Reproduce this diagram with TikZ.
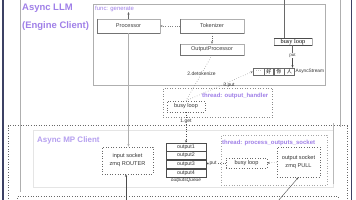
\documentclass[tikz,border=0pt]{standalone}
\usepackage{fontspec}
\setmainfont{Liberation Sans}
\newfontfamily\serifface{Liberation Serif}
\newfontfamily\cjk{Noto Sans CJK SC}
\usetikzlibrary{arrows.meta}
\definecolor{purp}{RGB}{160,128,232}
\definecolor{purpl}{RGB}{182,160,240}
\definecolor{navy}{RGB}{60,65,100}
\definecolor{lgray}{RGB}{175,175,175}
\definecolor{dgray}{RGB}{105,105,105}
\begin{document}
\begin{tikzpicture}[x=1bp,y=-1bp,
  title/.style={text=purp,font=\fontsize{9.5}{10}\selectfont\bfseries,anchor=west,inner sep=0},
  thr/.style={text=purp,font=\fontsize{6}{6}\selectfont\bfseries,anchor=west,inner sep=0},
  comp/.style={draw=lgray, line width=0.5pt, font=\fontsize{5.6}{6}\selectfont, inner sep=0, text=black!75},
  dbox/.style={draw=dgray, dotted, line width=0.6pt, inner sep=0, font=\fontsize{5.6}{6.5}\selectfont, text=black!80, align=center},
  lab/.style={font=\fontsize{5}{5}\selectfont, inner sep=0.5pt, text=black!80},
  cell/.style={draw=dgray, line width=0.5pt, minimum height=7, inner sep=0, font=\cjk\fontsize{5}{5}\selectfont},
  qcell/.style={draw=black!70, line width=0.7pt, minimum width=40, minimum height=8, inner sep=0, font=\fontsize{5.3}{5.3}\selectfont, text=black!80},
  arr/.style={-{Stealth[length=2.5pt,width=2pt]}, line width=0.4pt},
]
\useasboundingbox (0,0) rectangle (356,200);
\fill[white] (0,0) rectangle (356,200);

% outer frame lines
\draw[navy, line width=1.4pt] (3,-1) -- (3,201);
\draw[navy, line width=1.4pt] (351.5,-1) -- (351.5,201);

% Async LLM box edges
\draw[lgray, line width=0.8pt] (20,-1) -- (20,192);
\draw[lgray, line width=0.8pt] (340,-1) -- (340,127);
\node[title] (t1) at (22,8) {Async LLM};
\node[title] (t2) at (22,26) {(Engine Client)};

% func: generate
\node[draw=lgray, line width=0.7pt, minimum width=233, minimum height=81, inner sep=0] (gen) at (209.5,44.5) {};
\node[anchor=north west, text=purp, font=\fontsize{6}{6}\selectfont, inner sep=0] (genl) at (95,5.5) {func: generate};

\node[comp, minimum width=63, minimum height=14] (proc) at (128.5,26) {Processor};
\node[comp, minimum width=64, minimum height=14] (tok) at (212,26) {Tokenizer};
\node[comp, minimum width=64, minimum height=11] (op) at (212,49.5) {OutputProcessor};
\foreach \n in {proc,tok,op}{
  \draw[black!55, line width=0.7pt] (\n.north west) -- (\n.south west) -- (\n.south east);
}
\coordinate (pu) at (128.5,12);
\draw[arr, black!60] (proc.north) -- (pu);
\draw[arr, black!50, dotted] (tok.west) -- (proc.east);
\draw[arr, black!60, dotted] (tok.south) -- (op.north);

% busy loop (top right)
\node[draw=lgray, line width=0.4pt, minimum width=38, minimum height=7, inner sep=0, font=\serifface\fontsize{6.3}{6}\selectfont] (busy1) at (293,41.5) {busy loop};
\draw[black!70, line width=0.5pt] (busy1.north west) -- (busy1.north east);
\draw[black!70, line width=0.5pt] (busy1.south west) -- (busy1.south east);
\coordinate (topin) at (284,-1);
\draw[dgray, line width=0.5pt] (topin) -- (topin |- busy1.north);
\node[lab, font=\serifface\fontsize{5}{5}\selectfont] (put1) at (292.5,55.5) {put};
\draw[black!60, line width=0.4pt] (busy1.south -| put1) -- (put1.north);

% AsyncStream
\node[cell, minimum width=11] (c1) at (258.5,71.5) {…};
\node[cell, minimum width=9, anchor=west] (c2) at (c1.east) {好};
\node[cell, minimum width=10, anchor=west] (c3) at (c2.east) {你};
\node[cell, minimum width=10, anchor=west] (c4) at (c3.east) {人};
\node[lab, anchor=west, font=\fontsize{4.8}{5}\selectfont] (asl) at (295,71.5) {AsyncStream};
\draw[arr, black!70] (put1.south) -- (put1.south |- c4.north);

% output_handler thread
\node[dbox, draw=black!45, minimum width=110, minimum height=29] (oh) at (218,102.5) {};
\node[thr] (ohl) at (202,96) {thread: output\_handler};
\node[dbox, minimum width=38, minimum height=11] (busy2) at (186,106.5) {busy loop};

\draw[black!55, dotted, line width=0.5pt] (op.south) -- node[lab, fill=white, pos=0.4] {2.detokenize} (busy2.north);
\draw[arr, black!55, dotted, line width=0.5pt] (busy2.north) -- (c1.west);
\node[lab] (p3) at (229,85) {3.put};

% Async MP Client
\draw[dgray, dotted, line width=0.6pt] (8,201) -- (8,125.5) -- (347,125.5) -- (347,201);
\draw[gray!20, line width=0.5pt] (33,130) rectangle (333,187);
\draw[gray!55, line width=0.6pt] (333,123) -- (333,184);
\draw[dgray, dotted, line width=0.6pt] (17,201) -- (17,196.5) -- (338,196.5) -- (338,201);
\node[thr, font=\fontsize{8}{8}\selectfont\bfseries, text=purpl] (mpl) at (37,140) {Async MP Client};

\node[dbox, minimum width=51, minimum height=27] (isock) at (127.5,160.5) {input socket\\[1.5pt]zmq ROUTER};
\draw[arr, lgray] (proc.south) -- (proc.south |- isock.north);
\coordinate (ib) at (126,201);
\draw[arr, black!70] (ib) -- (ib |- isock.south);

% outputs queue
\node[qcell] (q1) at (186,147) {output1};
\node[qcell, anchor=north] (q2) at (q1.south) {output2};
\node[qcell, anchor=north] (q3) at (q2.south) {output3};
\node[qcell, anchor=north] (q4) at (q3.south) {output4};
\node[lab, font=\fontsize{4.8}{5}\selectfont\itshape] (ql) at (186,180) {outputsQueue};
\draw[arr, black!70, dotted, line width=0.5pt] (busy2.south) -- node[lab, fill=white, pos=0.3] {1.get} (q1.north);

% process_outputs_socket thread
\node[dbox, draw=black!35, minimum width=106, minimum height=50] (pos) at (274,160) {};
\node[thr] (posl) at (222,142.5) {thread: process\_outputs\_socket};
\node[dbox, minimum width=41, minimum height=10] (busy3) at (246.5,163) {busy loop};
\node[dbox, minimum width=43, minimum height=30] (osock) at (298.5,162) {output socket\\[1.5pt]zmq PULL};
\draw[arr, black!60, dotted, line width=0.5pt] (osock.west) -- (busy3.east);
\node[lab] (putl) at (213,163) {put};
\draw[black!60, dotted, line width=0.5pt] (busy3.west) -- (putl.east);
\draw[arr, black!70] (putl.west) -- (q3.east);
\coordinate (ob) at (278,201);
\draw[arr, black!70] (ob) -- (osock.south);
\end{tikzpicture}
\end{document}
